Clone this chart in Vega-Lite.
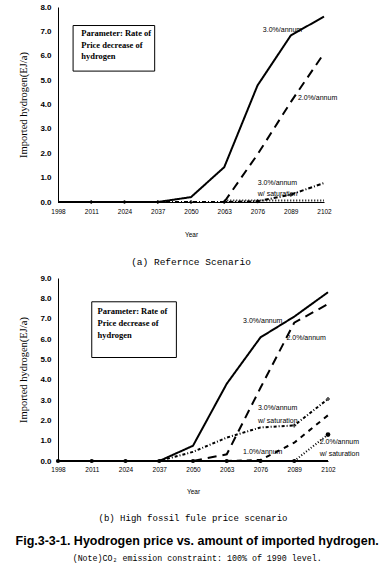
{
  "$schema": "https://vega.github.io/schema/vega-lite/v6.json",
  "background": "white",
  "padding": {"left": 10, "top": 3, "right": 4, "bottom": 4},
  "config": {
    "view": {"stroke": null},
    "font": "Liberation Sans",
    "axis": {"grid": false, "domainColor": "black", "domainWidth": 1, "labelColor": "black", "titleColor": "black", "ticks": false, "labelOverlap": false, "tickCount": 20}
  },
  "title": {
    "text": "Fig.3-3-1.    Hyodrogen price vs. amount of imported hydrogen.",
    "subtitle": "(Note)CO₂ emission constraint: 100% of 1990 level.",
    "orient": "bottom", "anchor": "middle", "dx": 8,
    "font": "Liberation Sans", "fontSize": 12.5, "fontWeight": "bold", "color": "black",
    "subtitleFont": "Liberation Mono", "subtitleFontSize": 8.3, "subtitleColor": "black",
    "offset": 12, "subtitlePadding": 6
  },
  "datasets": {
    "topLines": [
      {"s": "A30", "year": 1998, "v": 0}, {"s": "A30", "year": 2011, "v": 0}, {"s": "A30", "year": 2024, "v": 0}, {"s": "A30", "year": 2037, "v": 0}, {"s": "A30", "year": 2050, "v": 0.2}, {"s": "A30", "year": 2063, "v": 1.43}, {"s": "A30", "year": 2076, "v": 4.78}, {"s": "A30", "year": 2089, "v": 6.83}, {"s": "A30", "year": 2102, "v": 7.61},
      {"s": "A20", "year": 2063, "v": 0}, {"s": "A20", "year": 2076, "v": 1.95}, {"s": "A20", "year": 2089, "v": 4.1}, {"s": "A20", "year": 2102, "v": 6.1},
      {"s": "A30s", "year": 1998, "v": 0}, {"s": "A30s", "year": 2011, "v": 0}, {"s": "A30s", "year": 2024, "v": 0}, {"s": "A30s", "year": 2037, "v": 0}, {"s": "A30s", "year": 2050, "v": 0}, {"s": "A30s", "year": 2063, "v": 0}, {"s": "A30s", "year": 2076, "v": 0.03}, {"s": "A30s", "year": 2089, "v": 0.3}, {"s": "A30s", "year": 2102, "v": 0.78},
      {"s": "A10", "year": 2063, "v": 0.06}, {"s": "A10", "year": 2076, "v": 0.06}, {"s": "A10", "year": 2089, "v": 0.06}, {"s": "A10", "year": 2102, "v": 0.06}
    ],
    "botLines": [
      {"s": "B0", "year": 1998, "v": 0}, {"s": "B0", "year": 2011, "v": 0}, {"s": "B0", "year": 2024, "v": 0}, {"s": "B0", "year": 2037, "v": 0}, {"s": "B0", "year": 2050, "v": 0}, {"s": "B0", "year": 2063, "v": 0}, {"s": "B0", "year": 2076, "v": 0}, {"s": "B0", "year": 2089, "v": 0}, {"s": "B0", "year": 2102, "v": 0},
      {"s": "B30", "year": 1998, "v": 0}, {"s": "B30", "year": 2011, "v": 0}, {"s": "B30", "year": 2024, "v": 0}, {"s": "B30", "year": 2037, "v": 0}, {"s": "B30", "year": 2050, "v": 0.75}, {"s": "B30", "year": 2063, "v": 3.8}, {"s": "B30", "year": 2076, "v": 6.08}, {"s": "B30", "year": 2089, "v": 7.1}, {"s": "B30", "year": 2102, "v": 8.3},
      {"s": "B20", "year": 2050, "v": 0}, {"s": "B20", "year": 2063, "v": 0.33}, {"s": "B20", "year": 2076, "v": 3.6}, {"s": "B20", "year": 2089, "v": 6.8}, {"s": "B20", "year": 2102, "v": 7.72},
      {"s": "B30s", "year": 2037, "v": 0}, {"s": "B30s", "year": 2050, "v": 0.45}, {"s": "B30s", "year": 2063, "v": 1.15}, {"s": "B30s", "year": 2076, "v": 1.65}, {"s": "B30s", "year": 2089, "v": 1.75}, {"s": "B30s", "year": 2102, "v": 3.05},
      {"s": "B10", "year": 2063, "v": 0}, {"s": "B10", "year": 2076, "v": 0.05}, {"s": "B10", "year": 2089, "v": 0.9}, {"s": "B10", "year": 2102, "v": 2.25},
      {"s": "B20s", "year": 2089, "v": 0}, {"s": "B20s", "year": 2102, "v": 1.3}
    ],
    "topNotes": [
      {"t": "3.0%/annum", "year": 2078.1, "v": 7.04},
      {"t": "2.0%/annum", "year": 2091.8, "v": 4.25},
      {"t": "3.0%/annum", "year": 2076.1, "v": 0.78},
      {"t": "w/ saturation", "year": 2076.1, "v": 0.32}
    ],
    "botNotes": [
      {"t": "3.0%/annum", "year": 2069.3, "v": 6.88},
      {"t": "2.0%/annum", "year": 2086, "v": 6.04},
      {"t": "3.0%/annum", "year": 2075, "v": 2.6},
      {"t": "w/ saturation", "year": 2075, "v": 1.97},
      {"t": "1.0%/annum", "year": 2069.3, "v": 0.44},
      {"t": "2.0%/annum", "year": 2098.8, "v": 0.94},
      {"t": "w/ saturation", "year": 2098.8, "v": 0.36}
    ],
    "topBox": [{"x1": 2003.9, "x2": 2035.8, "y1": 7.24, "y2": 5.37, "tx": 2007.1, "ty": 7.08, "t": "Parameter: Rate of\nPrice decrease of\nhydrogen"}],
    "botBox": [{"x1": 2011.0, "x2": 2043.6, "y1": 7.83, "y2": 5.09, "tx": 2013.2, "ty": 7.57, "t": "Parameter: Rate of\nPrice decrease of\nhydrogen"}]
  },
  "spacing": 7,
  "vconcat": [
    {
      "width": 266, "height": 195,
      "title": {"text": "(a) Refernce Scenario", "orient": "bottom", "font": "Liberation Mono", "fontSize": 9.5, "fontWeight": "normal", "color": "black", "offset": 19},
      "layer": [
        {
          "data": {"name": "topLines"},
          "mark": {"type": "line", "color": "black"},
          "encoding": {
            "x": {"field": "year", "type": "quantitative", "scale": {"domain": [1998, 2102], "nice": false, "zero": false},
                  "axis": {"values": [1998, 2011, 2024, 2037, 2050, 2063, 2076, 2089, 2102], "tickCount": 20, "format": "d", "labelOverlap": false, "labelFontSize": 6.5, "labelPadding": 6, "labelFlush": false, "title": "Year", "titleFontSize": 6.5, "titleFontWeight": "normal", "titlePadding": 17}},
            "y": {"field": "v", "type": "quantitative", "scale": {"domain": [0, 8], "nice": false},
                  "axis": {"values": [0, 1, 2, 3, 4, 5, 6, 7, 8], "tickCount": 20, "format": ".1f", "labelOverlap": false, "labelFontSize": 8, "labelFontWeight": "bold", "labelPadding": 7, "title": "Imported hydrogen(EJ/a)", "titleFont": "Liberation Serif", "titleFontSize": 10.5, "titleFontWeight": "normal", "titlePadding": 11}},
            "detail": {"field": "s"},
            "strokeDash": {"field": "s", "type": "nominal", "legend": null, "scale": {"domain": ["A30", "A20", "A30s", "A10", "B0", "B30", "B20", "B30s", "B10", "B20s"], "range": [[1, 0], [9, 6], [4, 2, 1, 2], [1, 2], [1, 0], [1, 0], [9, 6], [3, 2, 1, 2], [5, 5], [1, 2]]}},
            "strokeWidth": {"field": "s", "type": "nominal", "legend": null, "scale": {"domain": ["A30", "A20", "A30s", "A10", "B0", "B30", "B20", "B30s", "B10", "B20s"], "range": [2, 2, 1, 1, 1.5, 1.6, 2, 1, 1.3, 1]}}
          }
        },
        {
          "data": {"name": "topLines"},
          "transform": [{"filter": "datum.s == 'A30s' && datum.year > 1998 && datum.year < 2102"}],
          "mark": {"type": "point", "shape": "cross", "filled": true, "color": "black", "size": 16},
          "encoding": {"x": {"field": "year", "type": "quantitative"}, "y": {"field": "v", "type": "quantitative"}}
        },
        {
          "data": {"name": "topBox"},
          "mark": {"type": "rect", "fill": "white", "stroke": "black", "strokeWidth": 1},
          "encoding": {"x": {"field": "x1", "type": "quantitative"}, "x2": {"field": "x2"}, "y": {"field": "y1", "type": "quantitative"}, "y2": {"field": "y2"}}
        },
        {
          "data": {"name": "topBox"},
          "mark": {"type": "text", "align": "left", "baseline": "top", "font": "Liberation Serif", "fontWeight": "bold", "fontSize": 8.5, "lineBreak": "\n", "lineHeight": 11.5, "color": "black"},
          "encoding": {"x": {"field": "tx", "type": "quantitative"}, "y": {"field": "ty", "type": "quantitative"}, "text": {"field": "t"}}
        },
        {
          "data": {"name": "topNotes"},
          "mark": {"type": "text", "align": "left", "baseline": "middle", "fontSize": 7, "color": "black"},
          "encoding": {"x": {"field": "year", "type": "quantitative"}, "y": {"field": "v", "type": "quantitative"}, "text": {"field": "t"}}
        }
      ]
    },
    {
      "width": 270, "height": 183,
      "title": {"text": "(b) High fossil fule price scenario", "orient": "bottom", "font": "Liberation Mono", "fontSize": 9, "fontWeight": "normal", "color": "black", "offset": 19},
      "layer": [
        {
          "data": {"name": "botLines"},
          "mark": {"type": "line", "color": "black"},
          "encoding": {
            "x": {"field": "year", "type": "quantitative", "scale": {"domain": [1998, 2102], "nice": false, "zero": false},
                  "axis": {"values": [1998, 2011, 2024, 2037, 2050, 2063, 2076, 2089, 2102], "tickCount": 20, "format": "d", "labelOverlap": false, "labelFontSize": 6.5, "labelPadding": 5, "labelFlush": false, "title": "Year", "titleFontSize": 6.5, "titleFontWeight": "normal", "titlePadding": 16}},
            "y": {"field": "v", "type": "quantitative", "scale": {"domain": [0, 9], "nice": false},
                  "axis": {"values": [0, 1, 2, 3, 4, 5, 6, 7, 8, 9], "tickCount": 20, "format": ".1f", "labelOverlap": false, "labelFontSize": 8, "labelFontWeight": "bold", "labelPadding": 7, "title": "Imported hydrogen(EJ/a)", "titleFont": "Liberation Serif", "titleFontSize": 10.5, "titleFontWeight": "normal", "titlePadding": 11}},
            "detail": {"field": "s"},
            "strokeDash": {"field": "s", "type": "nominal", "legend": null, "scale": {"domain": ["A30", "A20", "A30s", "A10", "B0", "B30", "B20", "B30s", "B10", "B20s"], "range": [[1, 0], [9, 6], [4, 2, 1, 2], [1, 2], [1, 0], [1, 0], [9, 6], [3, 2, 1, 2], [5, 5], [1, 2]]}},
            "strokeWidth": {"field": "s", "type": "nominal", "legend": null, "scale": {"domain": ["A30", "A20", "A30s", "A10", "B0", "B30", "B20", "B30s", "B10", "B20s"], "range": [2, 2, 1, 1, 1.5, 1.6, 2, 1, 1.3, 1]}}
          }
        },
        {
          "data": {"name": "botLines"},
          "transform": [{"filter": "datum.s == 'B0' && datum.year < 2102"}],
          "mark": {"type": "point", "shape": "circle", "filled": true, "color": "black", "size": 18, "opacity": 1},
          "encoding": {"x": {"field": "year", "type": "quantitative"}, "y": {"field": "v", "type": "quantitative"}}
        },
        {
          "data": {"name": "botLines"},
          "transform": [{"filter": "datum.s == 'B30s' && datum.year >= 2089"}],
          "mark": {"type": "point", "shape": "cross", "filled": true, "color": "black", "size": 16},
          "encoding": {"x": {"field": "year", "type": "quantitative"}, "y": {"field": "v", "type": "quantitative"}}
        },
        {
          "data": {"name": "botLines"},
          "transform": [{"filter": "datum.s == 'B20s' && datum.year == 2102"}],
          "mark": {"type": "point", "shape": "circle", "filled": true, "color": "black", "size": 22, "opacity": 1},
          "encoding": {"x": {"field": "year", "type": "quantitative"}, "y": {"field": "v", "type": "quantitative"}}
        },
        {
          "data": {"name": "botBox"},
          "mark": {"type": "rect", "fill": "white", "stroke": "black", "strokeWidth": 1},
          "encoding": {"x": {"field": "x1", "type": "quantitative"}, "x2": {"field": "x2"}, "y": {"field": "y1", "type": "quantitative"}, "y2": {"field": "y2"}}
        },
        {
          "data": {"name": "botBox"},
          "mark": {"type": "text", "align": "left", "baseline": "top", "font": "Liberation Serif", "fontWeight": "bold", "fontSize": 8.5, "lineBreak": "\n", "lineHeight": 12, "color": "black"},
          "encoding": {"x": {"field": "tx", "type": "quantitative"}, "y": {"field": "ty", "type": "quantitative"}, "text": {"field": "t"}}
        },
        {
          "data": {"name": "botNotes"},
          "mark": {"type": "text", "align": "left", "baseline": "middle", "fontSize": 7, "color": "black"},
          "encoding": {"x": {"field": "year", "type": "quantitative"}, "y": {"field": "v", "type": "quantitative"}, "text": {"field": "t"}}
        }
      ]
    }
  ]
}
